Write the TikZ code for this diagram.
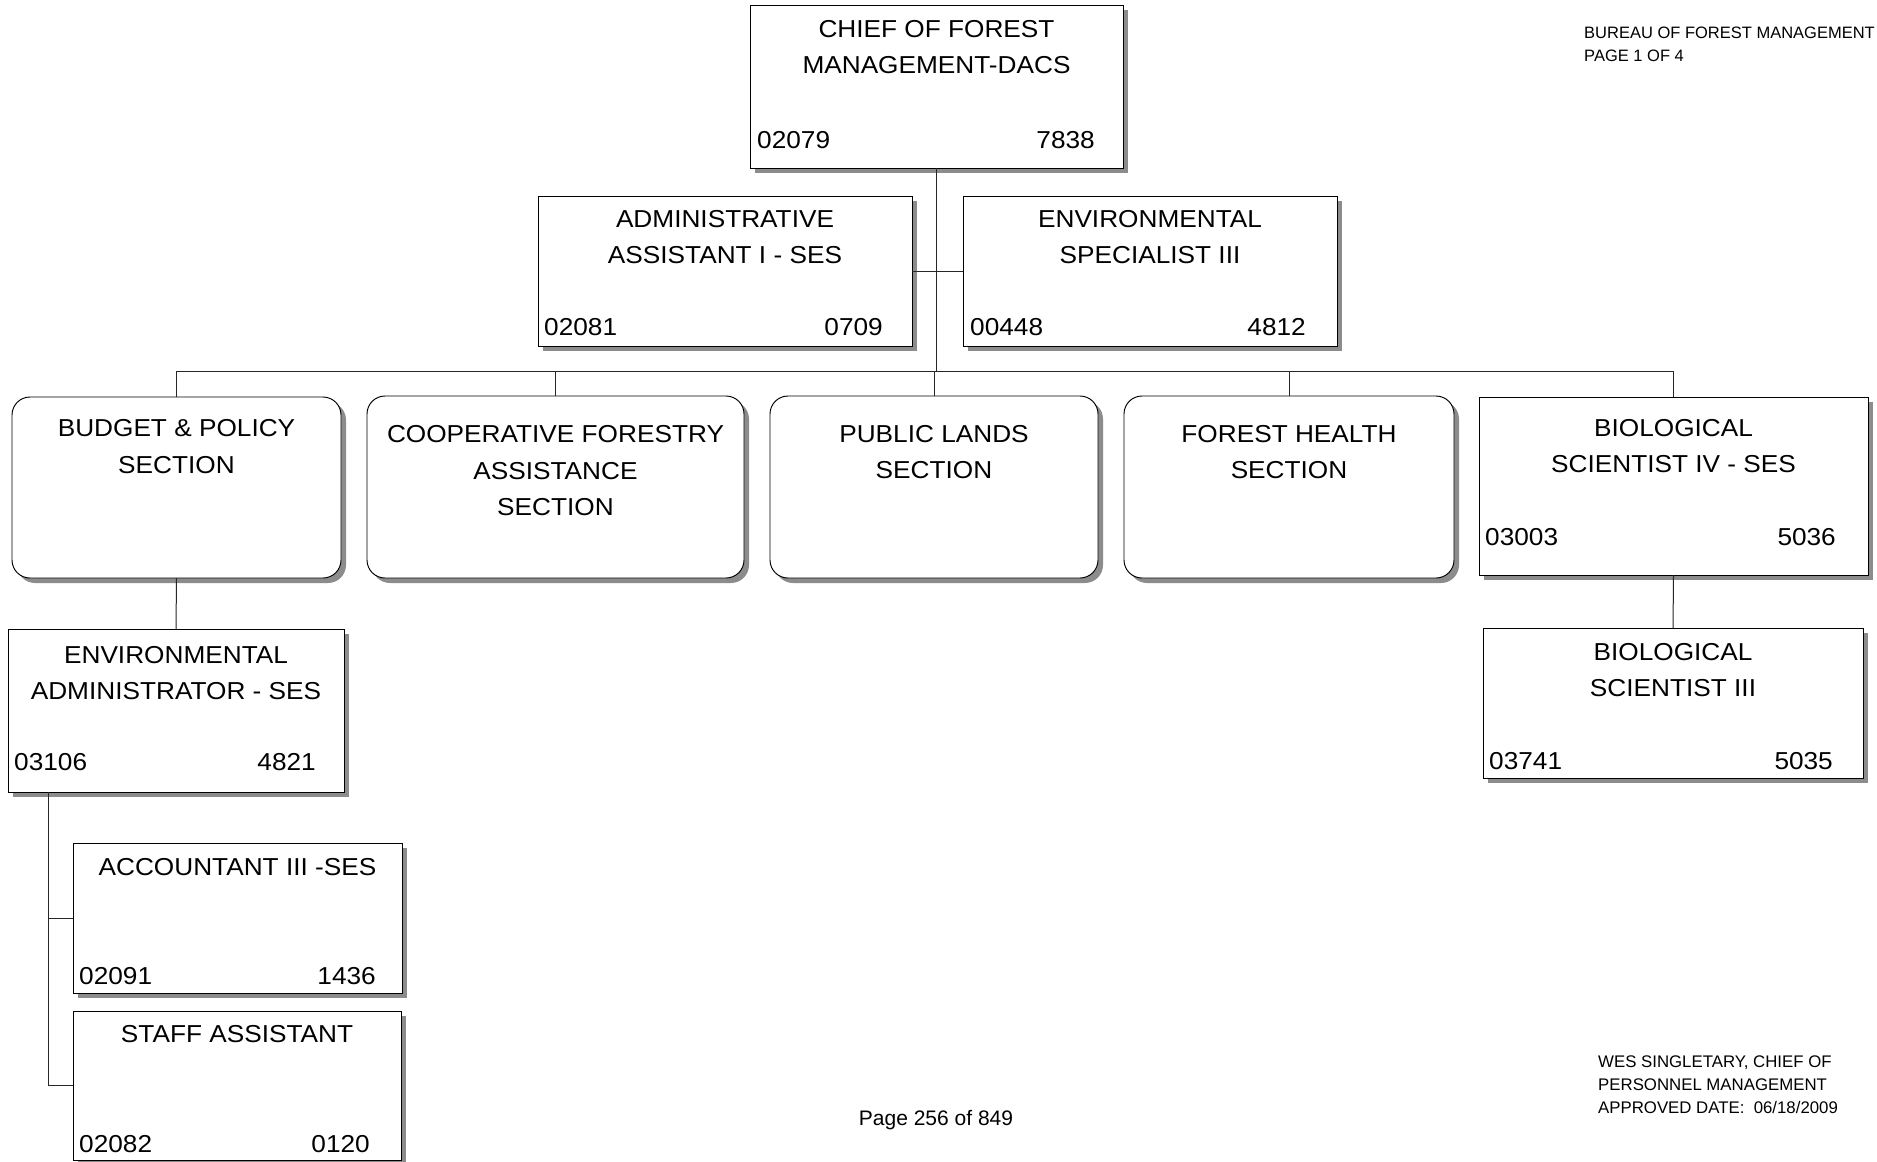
\documentclass[tikz,border=0pt]{standalone}
\usepackage{fontspec}
\setmainfont{Liberation Sans}
\newfontfamily\boxfont{Liberation Sans}[FakeStretch=1.07]
\usetikzlibrary{calc,shadows}

\begin{document}
\begin{tikzpicture}[x=1pt,y=-1pt,
  boxbase/.style={draw=black, line width=0.95pt, fill=white, inner sep=0pt, outer sep=0pt,
    drop shadow={shadow xshift=5pt, shadow yshift=-5pt, fill=black!45, opacity=1}},
  posbox/.style={boxbase, rectangle},
  secbox/.style={boxbase, rectangle, rounded corners=18pt},
  % the base anchor of a multi-line title sits on its last line
  title/.style={anchor=base, align=center, inner sep=0pt,
    font={\boxfont\fontsize{24.5}{36.5}\selectfont}},
  numl/.style={anchor=base west, inner sep=0pt, font={\boxfont\fontsize{24.5}{29}\selectfont}},
  numr/.style={anchor=base east, inner sep=0pt, font={\boxfont\fontsize{24.5}{29}\selectfont}},
  link/.style={draw=black!85, line width=1pt},
  note/.style={anchor=base west, align=left, inner sep=0pt,
    font={\fontsize{16.5}{23.5}\selectfont}}
]
\path[use as bounding box, fill=white] (0,0) rectangle (1877,1162);

% level of the horizontal bus under the second row
\coordinate (bus) at (0,371);

% boxes
\node[posbox, minimum width=373pt, minimum height=163pt] (chief) at (936.5,86.5) {};
\node[posbox, minimum width=374pt, minimum height=150pt] (admin) at (725,271) {};
\node[posbox, minimum width=374pt, minimum height=150pt] (envspec) at (1150,271) {};
\node[secbox, minimum width=329pt, minimum height=181pt] (budget) at (176.5,487.5) {};
\node[secbox, minimum width=377pt, minimum height=182pt] (coop) at (555.5,487) {};
\node[secbox, minimum width=328pt, minimum height=182pt] (public) at (934,487) {};
\node[secbox, minimum width=330pt, minimum height=182pt] (health) at (1289,487) {};
\node[posbox, minimum width=389pt, minimum height=178pt] (bio4) at (1673.5,486) {};
\node[posbox, minimum width=336pt, minimum height=163pt] (envadm) at (176,710.5) {};
\node[posbox, minimum width=380pt, minimum height=150pt] (bio3) at (1673,703) {};
\node[posbox, minimum width=329pt, minimum height=150pt] (acct) at (237.5,918) {};
\node[posbox, minimum width=328pt, minimum height=149pt] (staff) at (237,1085.5) {};

% connectors
\draw[link] (chief.south) -- (chief.south |- bus);
\draw[link] (admin.east) -- (envspec.west);
\draw[link] (budget.north |- bus) -- (bio4.north |- bus);
\foreach \b in {budget,coop,public,health,bio4}
  \draw[link] (\b.north |- bus) -- (\b.north);
\draw[link] (budget.south) -- (envadm.north);
\draw[link] (bio4.south) -- (bio3.north);
\coordinate (spine) at ($(envadm.south west)+(40,0)$);
\draw[link] (spine) -- (spine |- staff.west) -- (staff.west);
\draw[link] (spine |- acct.west) -- (acct.west);

% ---------- texts ----------
\node[title] (chief-t) at ($(chief.north)+(0,68.5)$) {CHIEF OF FOREST\\MANAGEMENT-DACS};
\node[numl] (chief-l) at ($(chief.south west)+(7,-20)$) {02079};
\node[numr] (chief-r) at ($(chief.south east)+(-28,-20)$) {7838};

\node[title] (admin-t) at ($(admin.north)+(0,67.5)$) {ADMINISTRATIVE\\ASSISTANT I - SES};
\node[numl] (admin-l) at ($(admin.south west)+(6,-11)$) {02081};
\node[numr] (admin-r) at ($(admin.south east)+(-29,-11)$) {0709};

\node[title] (envspec-t) at ($(envspec.north)+(0,67.5)$) {ENVIRONMENTAL\\SPECIALIST III};
\node[numl] (envspec-l) at ($(envspec.south west)+(7,-11)$) {00448};
\node[numr] (envspec-r) at ($(envspec.south east)+(-31,-11)$) {4812};

\node[title] (budget-t) at ($(budget.north)+(0,76)$) {BUDGET \& POLICY\\SECTION};
\node[title] (coop-t) at ($(coop.north)+(0,119.5)$) {COOPERATIVE FORESTRY\\ASSISTANCE\\SECTION};
\node[title] (public-t) at ($(public.north)+(0,82.5)$) {PUBLIC LANDS\\SECTION};
\node[title] (health-t) at ($(health.north)+(0,82.5)$) {FOREST HEALTH\\SECTION};

\node[title] (bio4-t) at ($(bio4.north)+(0,75.5)$) {BIOLOGICAL\\SCIENTIST IV - SES};
\node[numl] (bio4-l) at ($(bio4.south west)+(6,-30)$) {03003};
\node[numr] (bio4-r) at ($(bio4.south east)+(-32,-30)$) {5036};

\node[title] (envadm-t) at ($(envadm.north)+(0,70.5)$) {ENVIRONMENTAL\\ADMINISTRATOR - SES};
\node[numl] (envadm-l) at ($(envadm.south west)+(6,-22)$) {03106};
\node[numr] (envadm-r) at ($(envadm.south east)+(-28,-22)$) {4821};

\node[title] (bio3-t) at ($(bio3.north)+(0,68.5)$) {BIOLOGICAL\\SCIENTIST III};
\node[numl] (bio3-l) at ($(bio3.south west)+(6,-9)$) {03741};
\node[numr] (bio3-r) at ($(bio3.south east)+(-30,-9)$) {5035};

\node[title] (acct-t) at ($(acct.north)+(0,32)$) {ACCOUNTANT III -SES};
\node[numl] (acct-l) at ($(acct.south west)+(6,-9)$) {02091};
\node[numr] (acct-r) at ($(acct.south east)+(-26,-9)$) {1436};

\node[title] (staff-t) at ($(staff.north)+(0,31)$) {STAFF ASSISTANT};
\node[numl] (staff-l) at ($(staff.south west)+(6,-8)$) {02082};
\node[numr] (staff-r) at ($(staff.south east)+(-31,-8)$) {0120};

% page notes
\node[note] (header) at (1584,61.5) {BUREAU OF FOREST MANAGEMENT\\PAGE 1 OF 4};
\node[note, font={\fontsize{16.8}{23}\selectfont}] (approval) at (1598,1113)
  {WES SINGLETARY, CHIEF OF\\PERSONNEL MANAGEMENT\\APPROVED DATE:\ \ 06/18/2009};
\node[anchor=base, inner sep=0pt, font={\fontsize{21}{24}\selectfont}] (pageno) at (936,1125)
  {Page 256 of 849};
\end{tikzpicture}
\end{document}
